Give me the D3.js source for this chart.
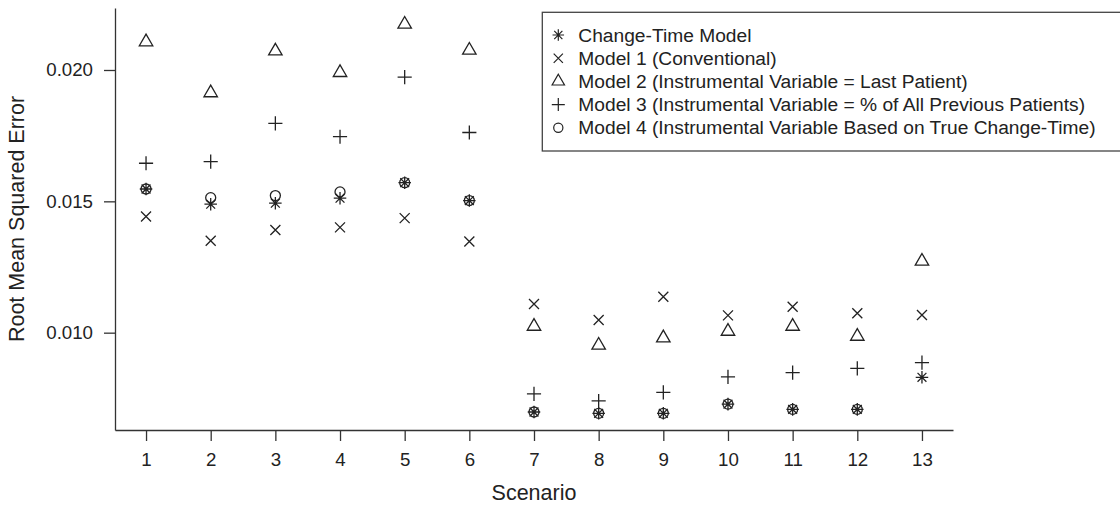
<!DOCTYPE html>
<html>
<head>
<meta charset="utf-8">
<title>Root Mean Squared Error by Scenario</title>
<script src="https://cdn.jsdelivr.net/npm/d3@7"></script>
<style>
  body {margin: 0; background: #fff;}
  text {font-family: "Liberation Sans", Arial, sans-serif; fill: #222;}
</style>
</head>
<body>
<script>
// values
var scenarios  = [1, 2, 3, 4, 5, 6, 7, 8, 9, 10, 11, 12, 13];
var changeTime = [0.01547, 0.01489, 0.01493, 0.01512, 0.01571, 0.01503, 0.00698, 0.00693, 0.00693, 0.00728, 0.00708, 0.00708, 0.00830];
var model1     = [0.01442, 0.01350, 0.01391, 0.01401, 0.01436, 0.01347, 0.01109, 0.01048, 0.01137, 0.01066, 0.01099, 0.01074, 0.01067];
var model2     = [0.02107, 0.01913, 0.02072, 0.01990, 0.02174, 0.02075, 0.01024, 0.00952, 0.00980, 0.01005, 0.01024, 0.00986, 0.01272];
var model3     = [0.01645, 0.01651, 0.01797, 0.01746, 0.01973, 0.01762, 0.00767, 0.00740, 0.00773, 0.00832, 0.00848, 0.00864, 0.00886];
var model4     = [0.01547, 0.01514, 0.01522, 0.01536, 0.01571, 0.01503, 0.00698, 0.00693, 0.00693, 0.00728, 0.00708, 0.00708, null];
var seriesNames = [
  "Change-Time Model",
  "Model 1 (Conventional)",
  "Model 2 (Instrumental Variable = Last Patient)",
  "Model 3 (Instrumental Variable = % of All Previous Patients)",
  "Model 4 (Instrumental Variable Based on True Change-Time)"
];
var seriesShapes = ["star", "cross", "triangle", "plus", "circle"];
var yTicks = [0.010, 0.015, 0.020];

var series = [changeTime, model1, model2, model3, model4].map(function (vals, i) {
  return {name: seriesNames[i], shape: seriesShapes[i], values: vals};
});

var width = 1120, height = 505;
var ink = "#222";

var svg = d3.select("body").append("svg")
  .attr("width", width)
  .attr("height", height);

var x = d3.scaleLinear().domain([0.52, 13.48]).range([115, 953]);
var y = d3.scaleLinear().domain([0.006295, 0.02236]).range([430, 8]);

// R style plotting symbols, R = symbol radius
function symbolPath(shape, R) {
  var p = d3.path();
  if (shape == "star") {
    var a = 0.886 * R, b = 1.253 * R;
    p.moveTo(-a, -a); p.lineTo(a, a);
    p.moveTo(-a, a); p.lineTo(a, -a);
    p.moveTo(-b, 0); p.lineTo(b, 0);
    p.moveTo(0, -b); p.lineTo(0, b);
  } else if (shape == "cross") {
    p.moveTo(-R, -R); p.lineTo(R, R);
    p.moveTo(-R, R); p.lineTo(R, -R);
  } else if (shape == "plus") {
    var c = 1.414 * R;
    p.moveTo(-c, 0); p.lineTo(c, 0);
    p.moveTo(0, -c); p.lineTo(0, c);
  } else if (shape == "triangle") {
    var r = 1.555 * R, xc = 1.347 * R, yc = 0.778 * R;
    p.moveTo(0, -r); p.lineTo(xc, yc); p.lineTo(-xc, yc); p.closePath();
  } else {
    p.arc(0, 0, R, 0, 2 * Math.PI);
  }
  return p.toString();
}

// axes
var xAxis = svg.append("g")
  .attr("transform", "translate(0,430)")
  .call(d3.axisBottom(x).tickValues(scenarios).tickSizeInner(11).tickSizeOuter(0).tickPadding(12));

var yAxis = svg.append("g")
  .attr("transform", "translate(115,0)")
  .call(d3.axisLeft(y).tickValues(yTicks).tickFormat(d3.format(".3f")).tickSizeInner(11).tickSizeOuter(0).tickPadding(11));

svg.selectAll(".domain, .tick line")
  .attr("stroke", "#333")
  .attr("stroke-width", 1.3);
svg.selectAll(".tick text")
  .attr("font-size", "18.7px")
  .attr("fill", ink);

svg.append("text")
  .attr("x", 534)
  .attr("y", 500)
  .attr("text-anchor", "middle")
  .attr("font-size", "21.5px")
  .text("Scenario");

svg.append("text")
  .attr("transform", "translate(16.5,219) rotate(-90)")
  .attr("text-anchor", "middle")
  .attr("dominant-baseline", "central")
  .attr("font-size", "21.5px")
  .text("Root Mean Squared Error");

// points
var groups = svg.selectAll("g.series")
  .data(series)
  .enter()
  .append("g")
  .attr("class", "series");

groups.selectAll("path")
  .data(function (s) {
    return s.values.map(function (v, i) { return {shape: s.shape, x: scenarios[i], v: v}; })
      .filter(function (d) { return d.v != null; });
  })
  .enter()
  .append("path")
  .attr("transform", function (d) { return "translate(" + x(d.x) + "," + y(d.v) + ")"; })
  .attr("d", function (d) { return symbolPath(d.shape, 5); })
  .attr("fill", "none")
  .attr("stroke", ink)
  .attr("stroke-width", 1.3);

// legend
var legend = svg.append("g");
legend.append("rect")
  .attr("x", 542.3)
  .attr("y", 12.3)
  .attr("width", 600)
  .attr("height", 138.7)
  .attr("fill", "#fff")
  .attr("stroke", "#444")
  .attr("stroke-width", 1.3);

var rows = legend.selectAll("g.row")
  .data(series)
  .enter()
  .append("g")
  .attr("class", "row")
  .attr("transform", function (d, i) { return "translate(558.3," + (35 + i * 23.2) + ")"; });

rows.append("path")
  .attr("d", function (d) { return symbolPath(d.shape, 4.6); })
  .attr("fill", "none")
  .attr("stroke", ink)
  .attr("stroke-width", 1.2);

rows.append("text")
  .attr("x", 20)
  .attr("dominant-baseline", "central")
  .attr("font-size", "19.2px")
  .text(function (d) { return d.name; });
</script>
</body>
</html>
